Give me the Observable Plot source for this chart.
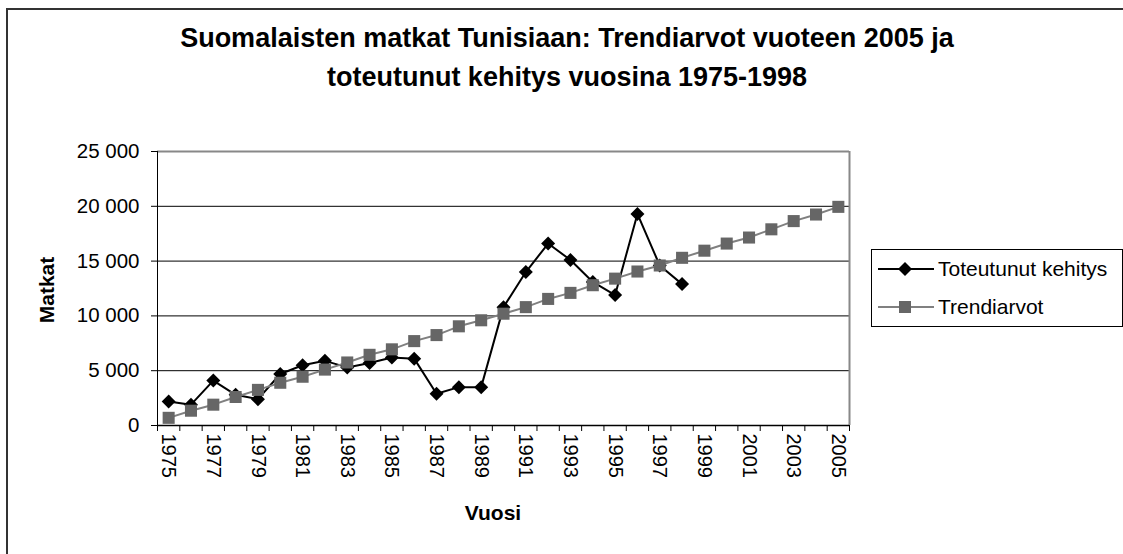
<!DOCTYPE html>
<html>
<head>
<meta charset="utf-8">
<script src="https://cdn.jsdelivr.net/npm/d3@7"></script>
<script src="https://cdn.jsdelivr.net/npm/@observablehq/plot@0.6"></script>
<style>
  body { margin: 0; background: #fff; font-family: "Liberation Sans", Arial, sans-serif; }
  #wrap { position: relative; width: 1123px; height: 554px; overflow: hidden; background: #fff; }
  #wrap svg.plot { position: absolute; left: 0; top: 0; }
  .frame { position: absolute; left: 6px; top: 8px; width: 1200px; height: 600px; border-left: 2px solid #333; border-top: 2px solid #333; }
  .title { position: absolute; left: 0; top: 19px; width: 1134px; text-align: center; font-weight: bold; font-size: 27px; line-height: 39px; color: #000; }
  .ylab { position: absolute; left: 47px; top: 290px; transform: translate(-50%, -50%) rotate(-90deg); font-weight: bold; font-size: 21px; white-space: nowrap; }
  .xlab { position: absolute; left: 493px; top: 513px; transform: translate(-50%, -50%); font-weight: bold; font-size: 21px; white-space: nowrap; }
  .legend { position: absolute; left: 871px; top: 249px; width: 250px; border: 1px solid #000; background: #fff; }
  .legend .row { height: 38px; display: flex; align-items: center; font-size: 21px; }
  .legend svg { margin-left: 6px; margin-right: 4px; }
</style>
</head>
<body>
<div id="wrap">
  <div class="frame"></div>
  <div class="title">Suomalaisten matkat Tunisiaan: Trendiarvot vuoteen 2005 ja<br>toteutunut kehitys vuosina 1975-1998</div>
</div>
<script>
// Years (categories)
const years = [1975,1976,1977,1978,1979,1980,1981,1982,1983,1984,1985,1986,1987,1988,1989,1990,
               1991,1992,1993,1994,1995,1996,1997,1998,1999,2000,2001,2002,2003,2004,2005];
// Toteutunut kehitys 1975-1998
const actualYears = [1975,1976,1977,1978,1979,1980,1981,1982,1983,1984,1985,1986,1987,1988,1989,1990,
                     1991,1992,1993,1994,1995,1996,1997,1998];
const actualValues = [2200,1900,4100,2800,2400,4700,5500,5900,5300,5700,6200,6100,2900,3500,3500,10800,
                      14000,16600,15100,13100,11900,19300,14600,12900];
// Trendiarvot 1975-2005
const trendValues = [700,1350,1900,2600,3250,3900,4450,5100,5750,6450,6950,7700,8250,9050,9600,10200,
                     10800,11550,12100,12800,13400,14050,14600,15300,15950,16600,17150,17900,18650,19250,19950];
// Tick labels
const yTicks = [0,5000,10000,15000,20000,25000];
const gridValues = [5000,10000,15000,20000];
const xLabelYears = [1975,1977,1979,1981,1983,1985,1987,1989,1991,1993,1995,1997,1999,2001,2003,2005];
const seriesNames = ["Toteutunut kehitys", "Trendiarvot"];

const actual = actualYears.map((y, i) => ({year: y, value: actualValues[i]}));
const trend = years.map((y, i) => ({year: y, value: trendValues[i]}));
const boundaries = [years[0] - 0.5, ...years.map(y => y + 0.5)];
const fmt = d => d3.format(",")(d).replace(/,/g, " ");

const plot = Plot.plot({
  width: 1123,
  height: 554,
  marginLeft: 157,
  marginRight: 274,
  marginTop: 151,
  marginBottom: 129,
  style: {fontFamily: "'Liberation Sans', Arial, sans-serif", fontSize: "20px", color: "#000", background: "transparent"},
  x: {type: "linear", domain: [years[0] - 0.5, years[years.length - 1] + 0.5], axis: null},
  y: {domain: [0, 25000], axis: null},
  marks: [
    Plot.ruleY(gridValues, {stroke: "#000", strokeWidth: 1}),
    Plot.ruleY([25000], {stroke: "#888", strokeWidth: 2}),
    Plot.ruleX([years[years.length - 1] + 0.5], {stroke: "#888", strokeWidth: 2}),
    Plot.axisY({ticks: yTicks, tickSize: 6, tickPadding: 12, tickFormat: fmt, stroke: "#000", strokeOpacity: 1, fontSize: 20.5, label: null}),
    Plot.axisX({ticks: boundaries, tickSize: 6, tickFormat: () => "", stroke: "#000", strokeOpacity: 1, label: null}),
    Plot.ruleX([years[0] - 0.5], {stroke: "#000", strokeWidth: 1}),
    Plot.ruleY([0], {stroke: "#000", strokeWidth: 1.5}),
    Plot.text(xLabelYears, {x: d => d, frameAnchor: "bottom", rotate: 90, textAnchor: "start", lineAnchor: "middle", dy: 8, text: d => String(d), fontSize: 20, fill: "#000"}),
    Plot.line(actual, {x: "year", y: "value", stroke: "#000", strokeWidth: 2}),
    Plot.dot(actual, {x: "year", y: "value", symbol: "diamond2", r: 6.3, fill: "#000", stroke: "none"}),
    Plot.line(trend, {x: "year", y: "value", stroke: "#808080", strokeWidth: 2}),
    Plot.dot(trend, {x: "year", y: "value", symbol: "square", r: 6.8, fill: "#666", stroke: "none"})
  ]
});
plot.classList.add("plot");
const wrap = document.getElementById("wrap");
wrap.appendChild(plot);

// Axis titles
const yl = document.createElement("div"); yl.className = "ylab"; yl.textContent = "Matkat"; wrap.appendChild(yl);
const xl = document.createElement("div"); xl.className = "xlab"; xl.textContent = "Vuosi"; wrap.appendChild(xl);

// Legend
const legend = document.createElement("div");
legend.className = "legend";
const sym = [
  `<svg width="56" height="16"><line x1="0" y1="8" x2="56" y2="8" stroke="#000" stroke-width="2"/><path d="M27,1 L34,8 L27,15 L20,8 Z" fill="#000"/></svg>`,
  `<svg width="56" height="16"><line x1="0" y1="8" x2="56" y2="8" stroke="#808080" stroke-width="2"/><rect x="21" y="2" width="12" height="12" fill="#666"/></svg>`
];
seriesNames.forEach((name, i) => {
  const row = document.createElement("div");
  row.className = "row";
  row.innerHTML = sym[i] + `<span>${name}</span>`;
  legend.appendChild(row);
});
wrap.appendChild(legend);
</script>
</body>
</html>
